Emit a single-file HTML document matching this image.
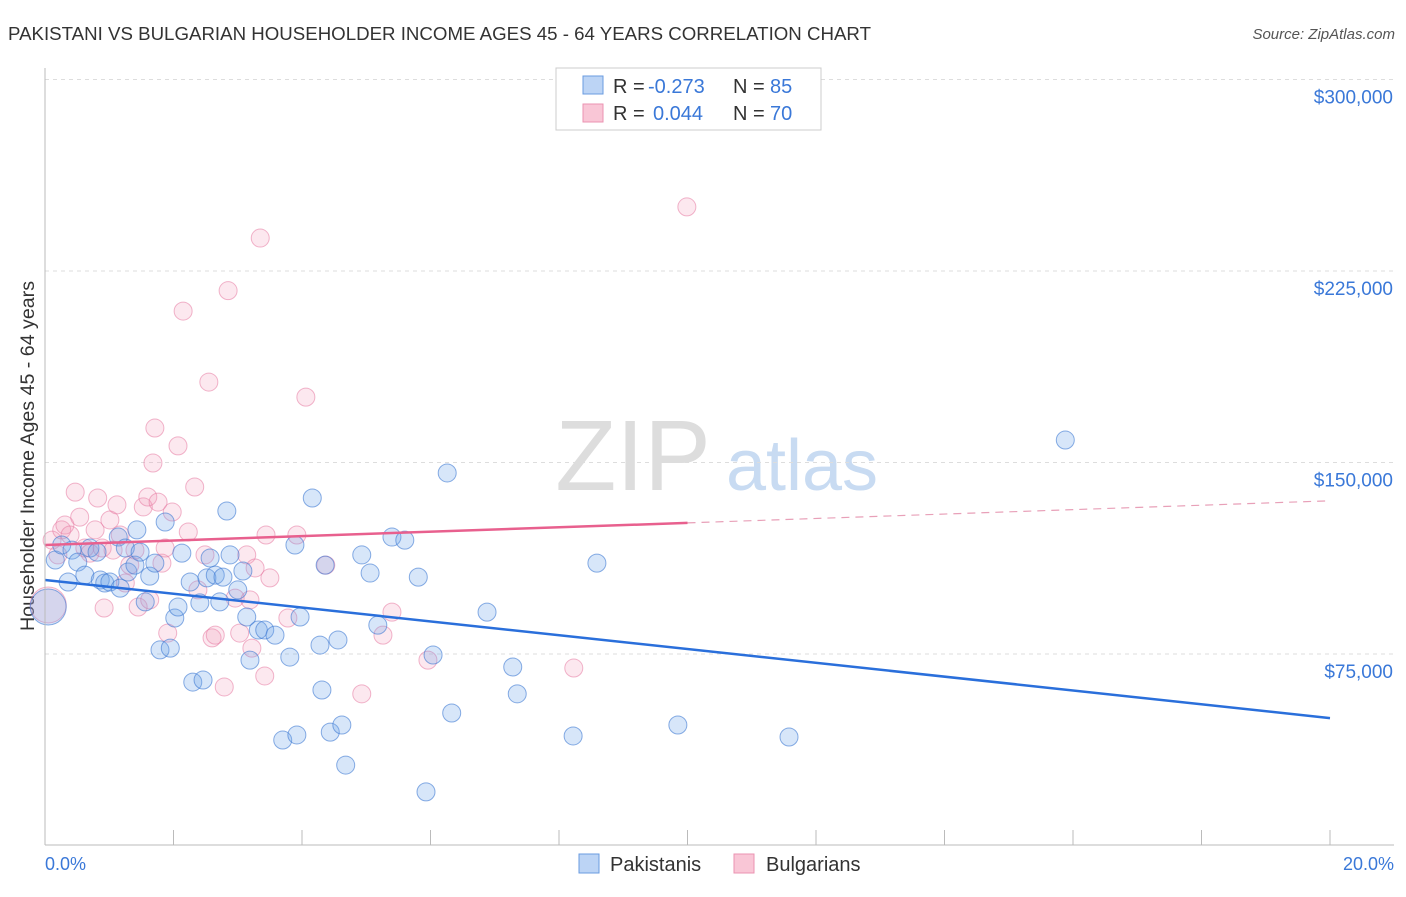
<!DOCTYPE html>
<html><head><meta charset="utf-8"><style>
body{margin:0;background:#fff;font-family:"Liberation Sans",sans-serif;}
svg text{font-family:"Liberation Sans",sans-serif;}
</style></head><body>
<svg id="chart" width="1406" height="892">
<text x="8" y="40" font-size="18" fill="#333" textLength="863" lengthAdjust="spacingAndGlyphs">PAKISTANI VS BULGARIAN HOUSEHOLDER INCOME AGES 45 - 64 YEARS CORRELATION CHART</text>
<text x="1395" y="39" font-size="15" fill="#555" font-style="italic" text-anchor="end">Source: ZipAtlas.com</text>
<text transform="translate(34,456) rotate(-90)" font-size="19" fill="#333" text-anchor="middle" textLength="350" lengthAdjust="spacingAndGlyphs">Householder Income Ages 45 - 64 years</text>
<g><text x="633" y="490" font-size="100" fill="#ddd" font-family="Liberation Serif" text-anchor="middle">ZIP</text><text x="802" y="490" font-size="72" fill="#c8dbf2" text-anchor="middle">atlas</text></g>
<g id="grid"></g><g id="marks"></g><g id="lines"></g>
<line x1="45" y1="68" x2="45" y2="845" stroke="#bbb"/>
<line x1="45" y1="845" x2="1394" y2="845" stroke="#bbb"/>
<text x="45" y="870" font-size="18" fill="#3a78d8">0.0%</text>
<text x="1394" y="870" font-size="18" fill="#3a78d8" text-anchor="end">20.0%</text>
<g>
<rect x="556" y="68" width="265" height="62" fill="#fff" stroke="#ccc"/>
<rect x="583" y="76" width="20" height="18" fill="#bcd4f5" stroke="#6a9be0"/>
<rect x="583" y="104" width="20" height="18" fill="#f9c6d6" stroke="#eb93b1"/>
<text x="613" y="93" font-size="20" fill="#333">R = <tspan fill="#3a78d8" x="648">-0.273</tspan><tspan x="733">N = </tspan><tspan fill="#3a78d8" x="770">85</tspan></text>
<text x="613" y="120" font-size="20" fill="#333">R = <tspan fill="#3a78d8" x="653">0.044</tspan><tspan x="733">N = </tspan><tspan fill="#3a78d8" x="770">70</tspan></text>
</g>
<g>
<rect x="579" y="854" width="20" height="19" fill="#bcd4f5" stroke="#6a9be0"/>
<text x="610" y="871" font-size="20" fill="#333">Pakistanis</text>
<rect x="734" y="854" width="20" height="19" fill="#f9c6d6" stroke="#eb93b1"/>
<text x="766" y="871" font-size="20" fill="#333">Bulgarians</text>
</g>
</svg>
<script>
const yTicks=[75,150,225,300];
const xTickVals=[0,2,4,6,8,10,12,14,16,18,20];
const blueX=[0.05,0.16,0.26,0.36,0.42,0.51,0.62,0.70,0.81,0.86,0.93,1.01,1.14,1.17,1.25,1.29,1.40,1.43,1.48,1.56,1.63,1.71,1.79,1.87,1.95,2.02,2.07,2.13,2.26,2.30,2.41,2.46,2.52,2.57,2.65,2.72,2.77,2.83,2.88,3.00,3.08,3.14,3.19,3.32,3.42,3.58,3.70,3.81,3.89,3.92,3.97,4.16,4.28,4.31,4.36,4.44,4.56,4.62,4.68,4.93,5.06,5.18,5.40,5.60,5.81,5.93,6.04,6.26,6.33,6.88,7.28,7.35,8.22,8.59,9.85,11.58,15.88];
const blueY=[93.4,111.8,117.7,103.2,115.7,111.0,105.9,116.5,114.9,104.0,102.8,103.2,120.8,100.8,116.5,107.1,109.8,123.6,114.9,95.4,105.5,110.6,76.6,126.7,77.3,89.1,93.4,114.5,103.2,64.0,95.0,64.8,104.8,112.6,105.9,95.4,105.1,131.0,113.8,100.1,107.5,89.5,72.6,84.4,84.4,82.4,41.3,73.8,117.7,43.3,89.5,136.1,78.5,60.9,109.8,44.4,80.5,47.2,31.5,113.8,106.7,86.3,120.8,119.6,105.1,21.0,74.6,145.9,51.9,91.4,69.9,59.4,42.9,110.6,47.2,42.5,158.8];
const pinkX=[0.05,0.11,0.20,0.26,0.31,0.39,0.47,0.54,0.62,0.70,0.78,0.82,0.89,0.92,1.01,1.06,1.12,1.17,1.25,1.32,1.40,1.45,1.53,1.60,1.63,1.68,1.71,1.76,1.82,1.87,1.91,1.98,2.07,2.15,2.23,2.33,2.38,2.49,2.55,2.60,2.65,2.79,2.85,2.96,3.03,3.14,3.19,3.22,3.27,3.35,3.42,3.44,3.50,3.78,3.92,4.06,4.37,4.93,5.26,5.40,5.96,8.23,9.99];
const pinkY=[94.2,119.6,113.8,123.6,125.5,121.6,138.4,128.6,116.5,114.5,123.6,136.1,116.5,93.0,127.5,115.7,133.4,121.6,102.8,109.8,115.7,93.4,132.6,136.5,96.2,149.8,163.5,134.5,110.6,116.5,83.2,130.6,156.5,209.3,122.8,140.4,100.1,113.8,181.5,81.3,82.4,62.1,217.3,96.9,83.2,113.8,96.2,77.3,108.7,237.9,66.4,121.6,104.8,89.1,121.6,175.6,109.8,59.4,82.4,91.4,72.6,69.5,250.1];
const blueTrend=[104.0,49.9];
const pinkTrend=[117.7,135.0];
const NS="http://www.w3.org/2000/svg";
const xs=v=>45+v/20*1285;
const ys=v=>845.5-v/75*191.5;
function mk(t,a,p){const e=document.createElementNS(NS,t);for(const k in a)e.setAttribute(k,a[k]);p.appendChild(e);return e;}
const grid=document.getElementById('grid'),marks=document.getElementById('marks'),lines=document.getElementById('lines'),svg=document.getElementById('chart');
yTicks.forEach(v=>{
 const l=mk('line',{x1:45,x2:1394,y1:ys(v),y2:ys(v),stroke:'#ddd','stroke-dasharray':'4,4'},grid);
 
 
 const t=mk('text',{x:1393,y:ys(v)+24,'font-size':19,fill:'#3a78d8','text-anchor':'end'},svg);
 t.textContent='$'+(v*1000).toLocaleString('en-US');
 
 
});
xTickVals.forEach(v=>{
 const l=mk('line',{x1:xs(v),x2:xs(v),y1:830,y2:845,stroke:'#bbb'},grid);
 
 
});
function dots(X,Y,fill,stroke,name){X.forEach((x,i)=>{
 const c=mk('circle',{cx:xs(x),cy:ys(Y[i]),r:i===0?18:9,fill:fill,stroke:stroke,'stroke-width':1},marks);
 
 
});}
dots(pinkX,pinkY,'rgba(242,150,180,0.22)','rgba(230,120,160,0.55)','bulgarian-point');
dots(blueX,blueY,'rgba(110,165,235,0.28)','rgba(60,120,210,0.6)','pakistani-point');
const bl=mk('line',{x1:xs(0),y1:ys(blueTrend[0]),x2:xs(20),y2:ys(blueTrend[1]),stroke:'#2a6fdb','stroke-width':2.5},lines);


const pm=(pinkTrend[0]+pinkTrend[1])/2;
const p1=mk('line',{x1:xs(0),y1:ys(pinkTrend[0]),x2:xs(10),y2:ys(pm),stroke:'#e8608e','stroke-width':2.5},lines);


const p2=mk('line',{x1:xs(10),y1:ys(pm),x2:xs(20),y2:ys(pinkTrend[1]),stroke:'#e8a0b8','stroke-width':1.2,'stroke-dasharray':'8,6'},lines);


</script>
</body></html>
